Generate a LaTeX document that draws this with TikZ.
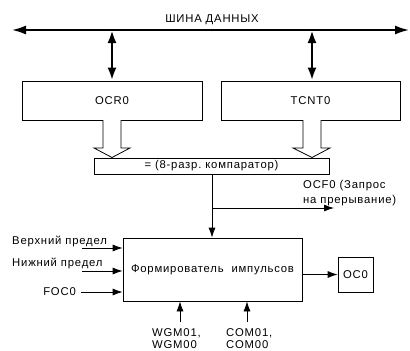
\documentclass[tikz,border=0pt]{standalone}
\usepackage{fontspec}
\setmainfont{Liberation Sans}[LetterSpace=7]
\usetikzlibrary{arrows.meta}
\begin{document}
\begin{tikzpicture}[x=1pt,y=-1pt,
  every node/.style={font=\fontsize{11.3}{13}\selectfont, inner sep=0pt},
  box/.style={draw, line width=0.8pt},
  thin/.style={line width=0.8pt},
  arr/.style={thin, -{Latex[length=10pt,width=7pt]}},
  busline/.style={line width=2.8pt, {Latex[length=15pt,width=9pt]}-{Latex[length=15pt,width=9pt]}},
  stem/.style={line width=2.6pt, {Latex[length=13pt,width=9pt]}-{Latex[length=13pt,width=9pt]}},
  hollow/.style={draw, line width=0.8pt, fill=white}]
\useasboundingbox (0,0) rectangle (410,351);
\clip (0,0) rectangle (410,351);
% bus
\coordinate (busL) at (11,30);
\coordinate (busR) at (410,30);
\draw[busline] (busL) -- (busR);
\node (buslbl) at (212,20) {ШИНА ДАННЫХ};
% registers
\node[box, minimum width=180pt, minimum height=39pt] (ocr) at (112,100.5) {OCR0};
\node[box, minimum width=179pt, minimum height=39pt] (tcnt) at (310.5,100.5) {TCNT0};
\coordinate (ocrB) at (112,30);
\coordinate (tcntB) at (312,30);
\draw[stem] (ocrB) -- (ocr.north -| ocrB);
\draw[stem] (tcntB) -- (tcnt.north -| tcntB);
% comparator
\node[box, minimum width=235pt, minimum height=16pt] (cmp) at (211.5,166) {= (8-разр.\ компаратор)};
% hollow arrows
\draw[hollow] (103,120) -- (103,148) -- (94,148) -- (112,157.5) -- (130,148) -- (121,148) -- (121,120);
\draw[hollow] (303,120) -- (303,148) -- (293,148) -- (312,157.5) -- (330,148) -- (321,148) -- (321,120);
% pulse former
\node[box, minimum width=179pt, minimum height=63pt] (fmt) at (212.5,269.5) {Формирователь\ \ импульсов};
\node[box, minimum width=35pt, minimum height=35pt] (oc0) at (355.5,274.5) {OC0};
\coordinate (br) at (212,208);
\coordinate (ocfE) at (334,208);
\draw[arr] (cmp.south -| br) -- (fmt.north -| br);
\draw[arr] (br) -- (ocfE);
\node[anchor=base west, align=left] (ocf) at (303,203) {OCF0 (Запрос\\[2pt]на прерывание)};
\draw[arr] (fmt.east |- oc0) -- (oc0.west);
% left inputs
\node[anchor=base west] (up) at (12,244) {Верхний предел};
\node[anchor=base west] (lo) at (12,266) {Нижний предел};
\node[anchor=east] (foc) at (76,292) {FOC0};
\coordinate (upS) at (82,248);
\coordinate (loS) at (82,271);
\draw[arr] (upS) -- (fmt.west |- upS);
\draw[arr] (loS) -- (fmt.west |- loS);
\draw[arr] ([xshift=5pt]foc.east) -- (fmt.west |- foc);
% bottom inputs
\coordinate (wS) at (180,322);
\coordinate (cS) at (247,322);
\draw[arr] (wS) -- (fmt.south -| wS);
\draw[arr] (cS) -- (fmt.south -| cS);
\node[anchor=base west, align=left] (wgm) at (152,348.5) {WGM01,\\[-0.5pt]WGM00};
\node[anchor=base west, align=left] (com) at (226,348.5) {COM01,\\[-0.5pt]COM00};
\end{tikzpicture}
\end{document}
